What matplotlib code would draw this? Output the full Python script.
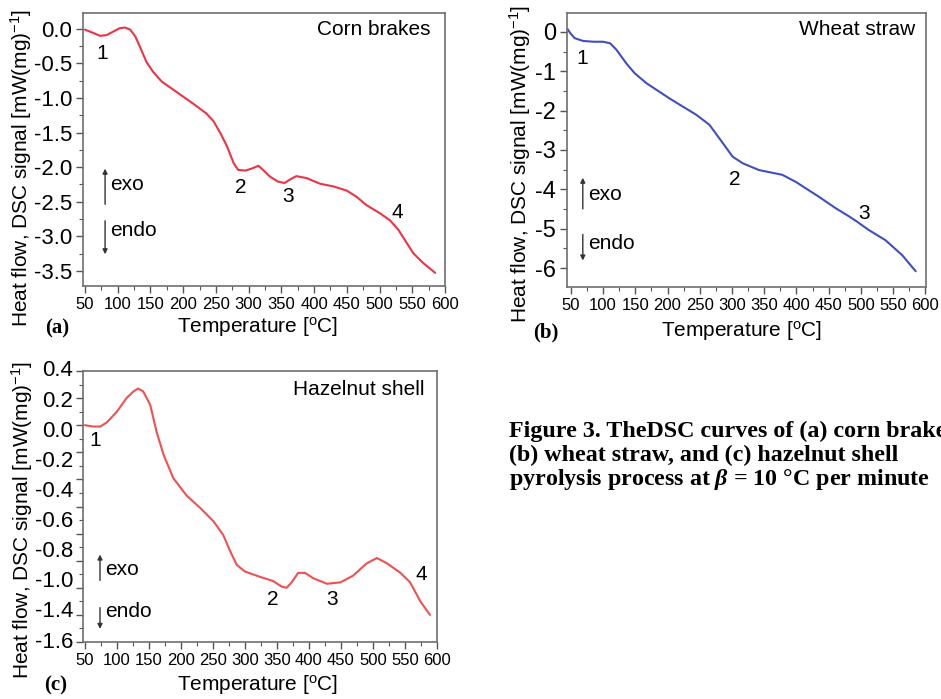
import numpy as np
import matplotlib.pyplot as plt
from matplotlib.ticker import MultipleLocator, FormatStrFormatter

# DSC curves (temperature in degC, heat flow in mW/mg)
corn_temp = [50, 63, 73, 83, 93, 103, 111, 119, 127, 134, 144, 154, 167, 185, 215,
             235, 246, 257, 267, 277, 284, 295, 305, 315, 322, 333, 345, 355, 363, 373,
             389, 409, 430, 450, 465, 480, 501, 516, 529, 539, 552, 567, 585]
corn_heat = [-0.01, -0.06, -0.10, -0.09, -0.04, 0.01, 0.02, -0.01, -0.11, -0.26, -0.48,
             -0.62, -0.76, -0.88, -1.08, -1.22, -1.33, -1.51, -1.70, -1.94, -2.04, -2.05,
             -2.02, -1.98, -2.04, -2.14, -2.21, -2.23, -2.18, -2.13, -2.16, -2.24, -2.28,
             -2.34, -2.43, -2.55, -2.67, -2.77, -2.91, -3.06, -3.25, -3.39, -3.53]

wheat_temp = [45, 49, 56, 69, 85, 100, 111, 121, 136, 149, 167, 203, 245, 265, 286,
              301, 317, 342, 378, 399, 435, 461, 481, 494, 512, 538, 564, 585]
wheat_heat = [0.07, -0.03, -0.16, -0.23, -0.25, -0.25, -0.29, -0.46, -0.80, -1.05,
              -1.30, -1.69, -2.11, -2.36, -2.83, -3.17, -3.34, -3.51, -3.63, -3.81,
              -4.19, -4.48, -4.68, -4.82, -5.03, -5.29, -5.67, -6.08]

hazel_temp = [50, 63, 74, 84, 100, 115, 126, 133, 141, 152, 162, 173, 188, 209, 230,
              251, 266, 277, 287, 300, 324, 344, 357, 365, 373, 383, 394, 407, 428,
              449, 469, 490, 506, 522, 543, 558, 574, 589]
hazel_heat = [0.00, -0.01, -0.01, 0.02, 0.10, 0.20, 0.25, 0.27, 0.25, 0.15, -0.05,
              -0.22, -0.39, -0.52, -0.61, -0.71, -0.81, -0.93, -1.03, -1.08, -1.12,
              -1.15, -1.19, -1.20, -1.16, -1.09, -1.09, -1.13, -1.17, -1.16, -1.11,
              -1.02, -0.98, -1.02, -1.09, -1.16, -1.30, -1.40]
# y tick labels as printed in panel (c)
hazel_ylabels = ["0.4", "0.2", "0.0", "-0.2", "-0.4", "-0.6", "-0.8", "-1.0", "-1.4", "-1.6"]

# peak numbers (label, temperature, heat flow)
corn_peaks = [("1", 76, -0.35), ("2", 288, -2.29), ("3", 360, -2.43), ("4", 527, -2.66)]
wheat_peaks = [("1", 67, -0.67), ("2", 304, -3.76), ("3", 505, -4.61)]
hazel_peaks = [("1", 66, -0.11), ("2", 344, -1.29), ("3", 436, -1.29), ("4", 575, -1.10)]

caption = ["Figure 3. TheDSC curves of (a) corn brakes,",
           "(b) wheat straw, and (c) hazelnut shell",
           r"pyrolysis process at $\beta$ = 10 °C per minute"]

plt.rcParams.update({
    "font.family": "Liberation Sans",
    "mathtext.fontset": "custom",
    "mathtext.rm": "Liberation Sans",
    "mathtext.it": "Liberation Serif:italic:bold",
    "axes.unicode_minus": False,
})

W, H = 941, 699
fig = plt.figure(figsize=(W / 100, H / 100), dpi=100)


def px_axes(left, top, right, bottom):
    return fig.add_axes([left / W, 1 - bottom / H, (right - left) / W, (bottom - top) / H])


def style(ax, xlim, ylim, ysize):
    ax.set_xlim(*xlim)
    ax.set_ylim(*ylim)
    ax.xaxis.set_major_locator(MultipleLocator(50))
    ax.xaxis.set_minor_locator(MultipleLocator(25))
    for s in ax.spines.values():
        s.set_color("#6e6e6e")
        s.set_linewidth(1.2)
    ax.tick_params(which="major", direction="out", length=5, width=1, color="#555555")
    ax.tick_params(which="minor", direction="out", length=3, width=0.8, color="#555555")
    ax.tick_params(axis="x", labelsize=12, pad=3)
    ax.tick_params(axis="y", labelsize=ysize, pad=3)


def exo_endo(ax, x, up, down, exo_y, endo_y):
    arrow = dict(arrowstyle="-|>", lw=1, color="#333333", mutation_scale=7)
    ax.annotate("", xy=(x, up[1]), xytext=(x, up[0]), xycoords="axes fraction", arrowprops=arrow)
    ax.annotate("", xy=(x, down[1]), xytext=(x, down[0]), xycoords="axes fraction", arrowprops=arrow)
    ax.text(x + 0.014, exo_y, "exo", transform=ax.transAxes, fontsize=15, va="center")
    ax.text(x + 0.014, endo_y, "endo", transform=ax.transAxes, fontsize=15, va="center")


def peaks(ax, items):
    for lbl, t, h in items:
        ax.text(t, h, lbl, fontsize=15, ha="center", va="center")


xlabel = r"Temperature [$^{\mathrm{o}}$C]"
ylabel = r"Heat flow, DSC signal [mW(mg)$^{-1}$]"
line_kw = dict(lw=1.5, solid_joinstyle="round", solid_capstyle="round")

# (a) corn brakes
ax = px_axes(83, 13, 445, 286)
ax.plot(corn_temp, corn_heat, color="#ee3344", **line_kw)
style(ax, (47, 600), (-3.72, 0.23), 16)
ax.yaxis.set_major_locator(MultipleLocator(0.5))
ax.yaxis.set_minor_locator(MultipleLocator(0.25))
ax.yaxis.set_major_formatter(FormatStrFormatter("%.1f"))
ax.text(0.804, 0.941, "Corn brakes", transform=ax.transAxes, fontsize=15, ha="center", va="center")
exo_endo(ax, 0.061, (0.289, 0.44), (0.249, 0.106), 0.37, 0.205)
peaks(ax, corn_peaks)
fig.text(258 / W, 1 - 327 / H, xlabel, fontsize=15, ha="center", va="center")
fig.text(21 / W, 1 - 168 / H, ylabel, fontsize=15, rotation=90, ha="center", va="center")
fig.text(57 / W, 1 - 328 / H, "(a)", family="Liberation Serif", weight="bold", fontsize=15,
         ha="center", va="center")

# (b) wheat straw
ax = px_axes(567, 13, 926, 287)
ax.plot(wheat_temp, wheat_heat, color="#3f4fbf", **line_kw)
style(ax, (44, 601), (-6.48, 0.48), 17)
ax.yaxis.set_major_locator(MultipleLocator(1))
ax.yaxis.set_minor_locator(MultipleLocator(0.5))
ax.yaxis.set_major_formatter(FormatStrFormatter("%d"))
ax.text(0.807, 0.94, "Wheat straw", transform=ax.transAxes, fontsize=15, ha="center", va="center")
exo_endo(ax, 0.044, (0.275, 0.409), (0.202, 0.0865), 0.336, 0.159)
peaks(ax, wheat_peaks)
fig.text(742 / W, 1 - 330 / H, xlabel, fontsize=15, ha="center", va="center")
fig.text(520 / W, 1 - 164 / H, ylabel, fontsize=15, rotation=90, ha="center", va="center")
fig.text(546 / W, 1 - 332 / H, "(b)", family="Liberation Serif", weight="bold", fontsize=15,
         ha="center", va="center")

# (c) hazelnut shell
ax = px_axes(83, 371, 437, 642)
ax.plot(hazel_temp, hazel_heat, color="#f05050", **line_kw)
style(ax, (47, 600), (-1.6, 0.4), 16)
ax.set_yticks(np.arange(-1.6, 0.41, 0.2))
ax.yaxis.set_minor_locator(MultipleLocator(0.1))
ax.set_yticklabels([])
for lbl, pos in zip(hazel_ylabels, np.linspace(0.4, -1.6, len(hazel_ylabels))):
    ax.annotate(lbl, xy=(0, pos), xycoords=("axes fraction", "data"), xytext=(-7, 0),
                textcoords="offset points", ha="right", va="center", fontsize=16)
ax.text(0.778, 0.93, "Hazelnut shell", transform=ax.transAxes, fontsize=15, ha="center", va="center")
exo_endo(ax, 0.048, (0.217, 0.333), (0.137, 0.038), 0.266, 0.112)
peaks(ax, hazel_peaks)
fig.text(258 / W, 1 - 685 / H, xlabel, fontsize=15, ha="center", va="center")
fig.text(22 / W, 1 - 520 / H, ylabel, fontsize=15, rotation=90, ha="center", va="center")
fig.text(56 / W, 1 - 685 / H, "(c)", family="Liberation Serif", weight="bold", fontsize=15,
         ha="center", va="center")

# caption (first line runs past the right edge, as in the source)
for line, base in zip(caption, [437, 461, 485]):
    fig.text(509 / W, 1 - base / H, line, family="Liberation Serif", weight="bold",
             fontsize=17.3, ha="left", va="baseline")

fig.savefig("out.png", dpi=100)
